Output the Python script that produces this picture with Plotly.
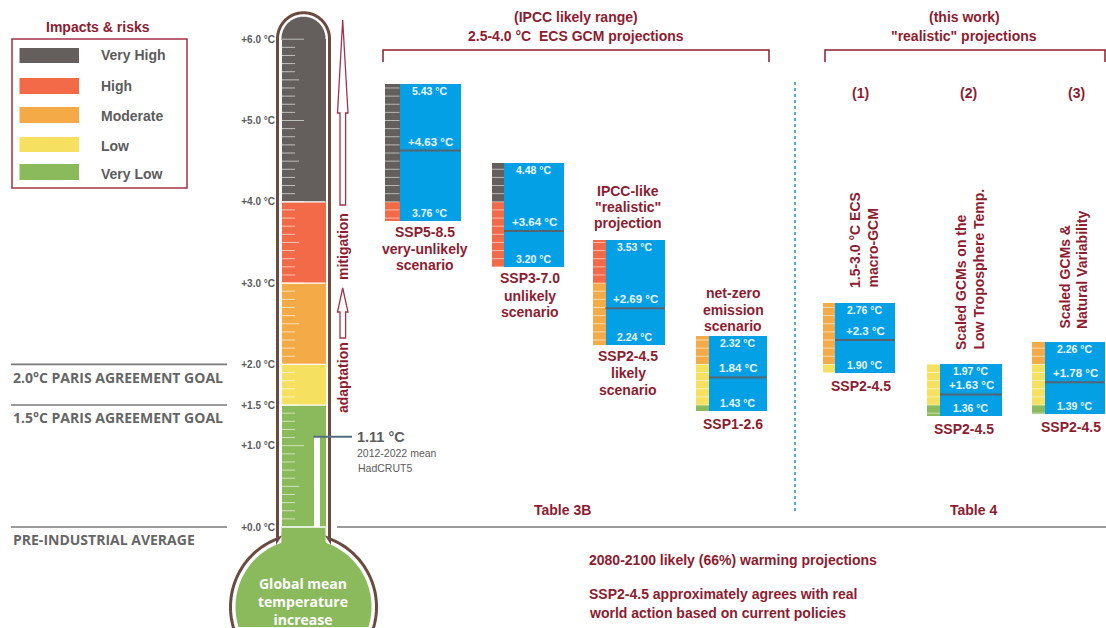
import numpy as np
import plotly.graph_objects as go

# temperature scale of the picture: 0 C at pixel 527, 81.3 px per degree
PX_ZERO = 527
PX_PER_C = 81.3
W, H = 1106, 628

# impact bands
band_names = ["Very High", "High", "Moderate", "Low", "Very Low"]
band_colors = ["#645f5c", "#f26a47", "#f4ab47", "#f5e05f", "#8bba5c"]
band_low = [4.0, 3.0, 2.0, 1.5, 0.0]
band_high = [6.0, 4.0, 3.0, 2.0, 1.5]

# thermometer axis
tick_vals = [0, 1, 1.5, 2, 3, 4, 5, 6]
tick_text = ["+0.0 °C", "+1.0 °C", "+1.5 °C", "+2.0 °C", "+3.0 °C", "+4.0 °C", "+5.0 °C", "+6.0 °C"]

# projections
bar_left = [385, 492, 593, 696, 823, 927, 1032]
strip_right = [399.5, 504, 605.5, 709, 835, 940, 1045]
bar_right = [461, 564, 665, 767, 895, 1002, 1105]
proj_low = [3.76, 3.20, 2.24, 1.43, 1.90, 1.36, 1.39]
proj_mean = [4.63, 3.64, 2.69, 1.84, 2.30, 1.63, 1.78]
proj_high = [5.45, 4.48, 3.53, 2.35, 2.76, 2.00, 2.28]
low_text = ["3.76 °C", "3.20 °C", "2.24 °C", "1.43 °C", "1.90 °C", "1.36 °C", "1.39 °C"]
mean_text = ["+4.63 °C", "+3.64 °C", "+2.69 °C", "1.84 °C", "+2.3 °C", "+1.63 °C", "+1.78 °C"]
high_text = ["5.43 °C", "4.48 °C", "3.53 °C", "2.32 °C", "2.76 °C", "1.97 °C", "2.26 °C"]

RED = "#8e1c30"
GREY = "#5c5c5c"
BLUE = "#04a0e6"
FONT = "Liberation Sans"
UBU = "Open Sans"

fig = go.Figure()
shapes = []
notes = []


def px_shape(kind, x0, y0, x1, y1, color=None, fill=None, width=1, dash=None, layer="above"):
    shapes.append(dict(type=kind, xref="x", yref="y2", x0=x0, y0=y0, x1=x1, y1=y1, layer=layer,
                       line=dict(color=color, width=width if color else 0, dash=dash), fillcolor=fill))


def path(d, color=None, fill=None, width=1, layer="above"):
    shapes.append(dict(type="path", xref="x", yref="y2", path=d, layer=layer, fillcolor=fill,
                       line=dict(color=color, width=width if color else 0)))


def text(x, y, s, size=14, color=RED, bold=True, anchor="center", angle=0, font=FONT, ya="middle"):
    notes.append(dict(xref="x", yref="y2", x=x, y=y, text="<b>%s</b>" % s if bold else s, showarrow=False,
                      xanchor=anchor, yanchor=ya, textangle=angle, borderpad=0, borderwidth=0,
                      font=dict(family=font, size=size, color=color)))


def arc(cx, cy, r, a0, a1, n=40):
    a = np.radians(np.linspace(a0, a1, n))
    return ["%.2f,%.2f" % (cx + r * np.cos(t), cy + r * np.sin(t)) for t in a]


def seg(x0, x1, y0, color, width):
    fig.add_trace(go.Scatter(x=[x0, x1], y=[y0, y0], mode="lines", showlegend=False, hoverinfo="skip",
                             line=dict(color=color, width=width)))


# thermometer glass
cx, bulb_y = 303.5, 607
left_side = arc(cx, bulb_y, 73, 160, 250)
cap = arc(cx, 38.7, 26, 180, 360)
right_side = arc(cx, bulb_y, 73, 290, 380)
glass = left_side + ["277.5,540"] + cap + ["329.5,540"] + right_side
path("M" + " L".join(glass), color="#6b4a42", width=3, layer="below")
bulb = arc(cx, bulb_y, 68, 163, 251) + ["281.5,527", "325.5,527"] + arc(cx, bulb_y, 68, 289, 377)
path("M" + " L".join(bulb) + " Z", fill=band_colors[4], layer="below")
path("M281.5,40 L" + " L".join(arc(cx, 38.7, 22, 180, 360)) + " L325.5,40 Z", fill=band_colors[0], layer="below")

# bands inside the thermometer
fig.add_trace(go.Bar(x=[cx] * 5, y=[h - l for h, l in zip(band_high, band_low)], base=band_low, width=44,
                     marker=dict(color=band_colors, line=dict(width=0)), showlegend=False, hoverinfo="skip"))

# scale marks every 0.1 degree in the column
for i in range(1, 61):
    length = 22 if i % 10 == 0 else 17 if i % 5 == 0 else 13
    seg(282, 282 + length, i / 10, "rgba(255,255,255,0.6)", 1)
for level in band_low:
    seg(281.5, 325.5, level, "white", 1.3)

# observed warming capillary and leader
fig.add_trace(go.Bar(x=[316.8], y=[1.11], base=[0], width=6.4, marker=dict(color="white", line=dict(width=0)),
                     showlegend=False, hoverinfo="skip"))
seg(313.5, 352, 1.11, "#4f6f84", 2)
text(357, 437, "1.11 °C", size=14.5, color=GREY, anchor="left")
text(357, 453, "2012-2022 mean", size=10.5, color=GREY, anchor="left", bold=False)
text(358, 468, "HadCRUT5", size=10.5, color=GREY, anchor="left", bold=False)
text(303, 601, "Global mean<br>temperature<br>increase", size=14, color="white", font=UBU)

# goal lines
for level, label, y_label in [(2.0, "2.0°C PARIS AGREEMENT GOAL", 377), (1.5, "1.5°C PARIS AGREEMENT GOAL", 417),
                              (0.0, "PRE-INDUSTRIAL AVERAGE", 539)]:
    seg(11, 227, level, "#7a7a7a", 1.6)
    text(13, y_label, label, size=14, color="#666666", anchor="left", font=UBU)
seg(337, 1106, 0, "#7a7a7a", 1.6)

# legend box
text(98, 27, "Impacts &amp; risks")
px_shape("rect", 12, 39, 187, 188, color="#a5324a", width=1.5)
swatch_y = [(48, 63), (78, 94), (107, 123), (137, 152), (164, 180)]
label_y = [55, 86, 116, 146, 174]
for name, col, (y0, y1), ly in zip(band_names, band_colors, swatch_y, label_y):
    px_shape("rect", 19.5, y0, 79, y1, fill=col)
    text(101, ly, name, size=14, color=GREY, anchor="left")

# hollow arrows
for tip, head, tail in [(20, 113, 205), (288, 312, 338)]:
    path("M342.7,%d L348,%d L345.6,%d L345.6,%d L340,%d L340,%d L337.5,%d Z" % (tip, head, head, tail, tail, head, head),
         color="#a5324a", fill="white", width=1.3)
text(343, 247, "mitigation", angle=-90)
text(343, 378, "adaptation", angle=-90)

# projection bars: strip split by band, blue box, mean line
for b_left, s_right, b_right, low, mean, high, lt, mt, ht in zip(bar_left, strip_right, bar_right, proj_low, proj_mean,
                                                                  proj_high, low_text, mean_text, high_text):
    for col, bl, bh in zip(band_colors, band_low, band_high):
        seg0, seg1 = max(low, bl), min(high, bh)
        if seg1 > seg0:
            fig.add_trace(go.Bar(x=[(b_left + s_right) / 2], y=[seg1 - seg0], base=[seg0], width=s_right - b_left,
                                 marker=dict(color=col, line=dict(width=0)), showlegend=False, hoverinfo="skip"))
    for i in range(int(np.ceil(low * 10)), int(np.floor(high * 10)) + 1):
        seg(b_left, s_right, i / 10, "rgba(255,255,255,0.55)", 1)
    centre = (s_right + b_right) / 2
    fig.add_trace(go.Bar(x=[centre], y=[high - low], base=[low], width=b_right - s_right,
                         marker=dict(color=BLUE, line=dict(width=0)), showlegend=False, hoverinfo="skip"))
    seg(s_right, b_right, mean, "#55646f", 2)
    for val, lab, shift, size in [(high, ht, 7, 10.5), (mean, mt, -9, 11.5), (low, lt, -8, 10.5)]:
        notes.append(dict(xref="x", yref="y", x=centre, y=val, yshift=-shift, text="<b>%s</b>" % lab, showarrow=False,
                          font=dict(family=FONT, size=size, color="#e8f6ff")))

# scenario captions
for x, y, s in [(425, 232, "SSP5-8.5"), (425, 249, "very-unlikely"), (425, 265, "scenario"),
                (530, 278, "SSP3-7.0"), (530, 296, "unlikely"), (530, 312, "scenario"),
                (628, 191, "IPCC-like"), (628, 207, '"realistic"'), (628, 223, "projection"),
                (628, 356, "SSP2-4.5"), (628, 373, "likely"), (628, 390, "scenario"),
                (733, 293, "net-zero"), (733, 310, "emission"), (733, 326, "scenario"), (733, 424, "SSP1-2.6"),
                (861, 386, "SSP2-4.5"), (964, 429, "SSP2-4.5"), (1071, 427, "SSP2-4.5")]:
    text(x, y, s)
for x, y, s in [(855, 288, "1.5-3.0 °C ECS"), (872, 288, "macro-GCM"),
                (961, 350, "Scaled GCMs on the"), (978, 350, "Low Troposphere Temp."),
                (1064, 329, "Scaled GCMs &amp;"), (1082, 329, "Natural Variability")]:
    text(x, y, s, angle=-90, ya="bottom")

# headers and brackets
path("M383,62 L383,50 L769,50 L769,62", color=RED, width=1.5)
path("M825,62 L825,50 L1105,50 L1105,62", color=RED, width=1.5)
text(576, 17, "(IPCC likely range)")
text(576, 36, "2.5-4.0 °C  ECS GCM projections")
text(964, 17, "(this work)")
text(964, 36, '"realistic" projections')
for x, s in [(860, "(1)"), (968, "(2)"), (1076, "(3)")]:
    text(x, 93, s)
px_shape("line", 795, 82, 795, 512, color="#1a8fd1", width=1.5, dash="dot")
text(562, 510, "Table 3B")
text(973, 510, "Table 4")
text(589, 560, "2080-2100 likely (66%) warming projections", anchor="left")
text(589, 594, "SSP2-4.5 approximately agrees with real", anchor="left")
text(589, 613, "world action based on current policies", anchor="left")

# hidden pixel axis for the drawing, real temperature axis for the values
fig.add_trace(go.Scatter(x=[0], y=[0], yaxis="y2", mode="markers", marker=dict(opacity=0), showlegend=False,
                         hoverinfo="skip"))
fig.update_layout(
    width=W, height=H, margin=dict(l=0, r=0, t=0, b=0), autosize=False,
    paper_bgcolor="white", plot_bgcolor="white", barmode="overlay", bargap=0, showlegend=False,
    xaxis=dict(range=[0, W], visible=False, fixedrange=True),
    yaxis=dict(range=[(PX_ZERO - H) / PX_PER_C, PX_ZERO / PX_PER_C], anchor="free", position=275 / W,
               tickvals=tick_vals, ticktext=["<b>%s</b>" % t for t in tick_text], ticks="", showgrid=False,
               zeroline=False, showline=False, tickfont=dict(family=FONT, size=10, color=GREY), fixedrange=True),
    yaxis2=dict(range=[H, 0], overlaying="y", visible=False, fixedrange=True),
    shapes=shapes, annotations=notes,
)
fig.write_html("out.html", config=dict(displayModeBar=False), post_script="document.body.style.margin='0';")
